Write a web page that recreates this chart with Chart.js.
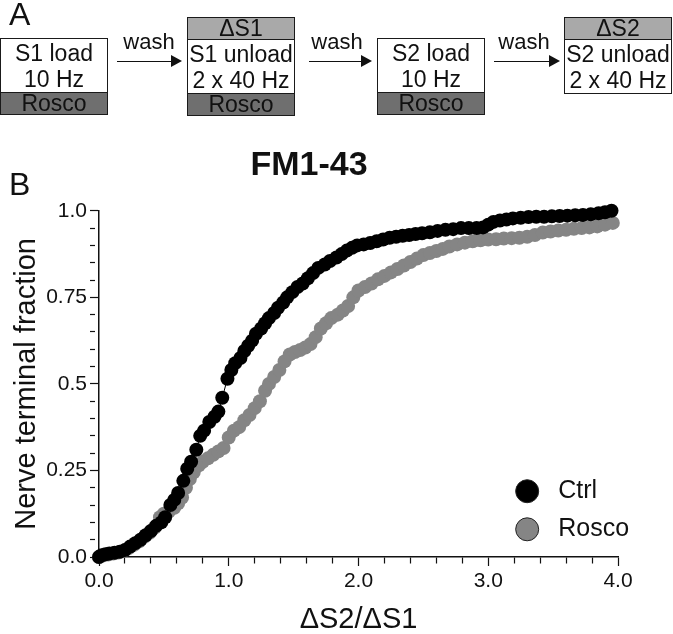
<!DOCTYPE html>
<html>
<head>
<meta charset="utf-8">
<script src="https://cdn.jsdelivr.net/npm/chart.js@4"></script>
<style>
  html, body { margin:0; padding:0; background:#fff; }
  body { width:673px; height:634px; position:relative; overflow:hidden; font-family:"Liberation Sans", Arial, sans-serif; color:#111; }
  #chart { position:absolute; left:0; top:0; }
  .lbl { position:absolute; font-size:32px; line-height:32px; }
  .box { position:absolute; width:108px; border:1.5px solid #1a1a1a; box-sizing:border-box; background:#fff; font-size:23px; text-align:center; }
  .wht { height:53px; display:flex; flex-direction:column; justify-content:center; line-height:26px; }
  .drk { height:21px; line-height:21px; background:#6f6f6f; border-top:1.5px solid #1a1a1a; }
  .lgt { height:21px; line-height:21px; background:#a9a9a9; border-bottom:1.5px solid #1a1a1a; }
  .wash { position:absolute; top:31px; font-size:22px; line-height:22px; width:70px; text-align:center; }
  .arrow { position:absolute; top:61px; height:0; border-top:1.5px solid #111; }
  .arrow::after { content:""; position:absolute; right:-2px; top:-7px; border-left:11px solid #111; border-top:6px solid transparent; border-bottom:6px solid transparent; }
</style>
</head>
<body>
<canvas id="chart" width="673" height="634"></canvas>

<!-- Panel A: protocol diagram -->
<div class="lbl" style="left:9px;top:-2px">A</div>
<div class="lbl" style="left:9px;top:168px">B</div>

<div class="box" style="left:0;top:38px">
  <div class="wht"><span>S1 load</span><span>10 Hz</span></div>
  <div class="drk">Rosco</div>
</div>
<div class="wash" style="left:114px">wash</div>
<div class="arrow" style="left:117px;width:63px"></div>

<div class="box" style="left:187px;top:17px">
  <div class="lgt">ΔS1</div>
  <div class="wht"><span>S1 unload</span><span>2 x 40 Hz</span></div>
  <div class="drk">Rosco</div>
</div>
<div class="wash" style="left:302px">wash</div>
<div class="arrow" style="left:309px;width:61px"></div>

<div class="box" style="left:377px;top:38px">
  <div class="wht"><span>S2 load</span><span>10 Hz</span></div>
  <div class="drk">Rosco</div>
</div>
<div class="wash" style="left:489px">wash</div>
<div class="arrow" style="left:494px;width:64px"></div>

<div class="box" style="left:564px;top:17px">
  <div class="lgt">ΔS2</div>
  <div class="wht"><span>S2 unload</span><span>2 x 40 Hz</span></div>
</div>

<script>
// ---- data ----
const ctrlX = [0.00,0.02,0.05,0.08,0.12,0.16,0.20,0.24,0.28,0.32,0.36,0.40,0.44,0.48,0.51,0.55,0.58,0.61,0.65,0.68,
  0.71,0.75,0.78,0.81,0.85,0.89,0.92,0.95,0.99,1.02,1.05,1.09,1.12,1.15,1.18,1.21,1.25,1.28,1.31,1.35,
  1.38,1.42,1.45,1.49,1.53,1.57,1.61,1.65,1.69,1.74,1.78,1.83,1.87,1.91,1.95,1.99,2.04,2.09,2.14,2.19,
  2.24,2.29,2.34,2.39,2.44,2.49,2.55,2.61,2.67,2.73,2.79,2.85,2.91,2.96,3.00,3.04,3.09,3.14,3.19,3.25,
  3.31,3.37,3.43,3.49,3.55,3.61,3.67,3.73,3.79,3.85,3.90,3.95];
const ctrlY = [0.000,0.005,0.008,0.010,0.012,0.015,0.020,0.030,0.040,0.050,0.063,0.075,0.090,0.100,0.115,0.150,0.165,0.185,0.220,0.255,
  0.275,0.310,0.350,0.365,0.390,0.405,0.420,0.460,0.515,0.540,0.560,0.575,0.595,0.610,0.625,0.645,0.660,0.675,0.690,0.705,
  0.720,0.735,0.750,0.765,0.780,0.790,0.805,0.820,0.835,0.845,0.855,0.865,0.875,0.885,0.893,0.900,0.903,0.907,0.912,0.917,
  0.922,0.925,0.928,0.930,0.933,0.935,0.938,0.942,0.945,0.947,0.950,0.950,0.950,0.952,0.960,0.968,0.972,0.975,0.978,0.980,
  0.982,0.983,0.983,0.984,0.985,0.986,0.987,0.988,0.990,0.993,0.996,1.000];

const roscoX = [0.00,0.03,0.07,0.11,0.15,0.19,0.23,0.27,0.31,0.35,0.39,0.43,0.47,0.50,0.54,0.58,0.61,0.64,0.67,0.70,
  0.73,0.77,0.80,0.84,0.88,0.92,0.96,1.00,1.04,1.08,1.12,1.16,1.20,1.24,1.28,1.31,1.35,1.39,1.43,1.47,
  1.51,1.55,1.59,1.63,1.67,1.71,1.75,1.79,1.84,1.88,1.92,1.96,2.00,2.05,2.10,2.15,2.20,2.25,2.30,2.35,
  2.40,2.45,2.50,2.55,2.60,2.65,2.70,2.76,2.82,2.88,2.94,3.00,3.06,3.12,3.18,3.24,3.30,3.36,3.42,3.48,
  3.54,3.60,3.66,3.72,3.78,3.84,3.90,3.96];
const roscoY = [0.000,0.004,0.007,0.010,0.013,0.018,0.026,0.035,0.045,0.058,0.070,0.085,0.115,0.125,0.132,0.142,0.155,0.172,0.200,0.225,
  0.245,0.265,0.275,0.285,0.295,0.305,0.315,0.345,0.365,0.375,0.395,0.410,0.430,0.450,0.480,0.500,0.520,0.540,0.565,0.585,
  0.592,0.598,0.605,0.615,0.635,0.660,0.675,0.690,0.700,0.712,0.725,0.750,0.770,0.780,0.790,0.802,0.812,0.822,0.832,0.842,
  0.852,0.862,0.872,0.878,0.884,0.890,0.897,0.903,0.908,0.912,0.915,0.917,0.918,0.920,0.921,0.922,0.925,0.930,0.937,0.940,
  0.943,0.945,0.948,0.950,0.952,0.955,0.960,0.965];

const xTickVals = [0, 1, 2, 3, 4];
const xTickText = ['0.0', '1.0', '2.0', '3.0', '4.0'];
const yTickVals = [0, 0.25, 0.5, 0.75, 1];
const yTickText = ['0.0', '0.25', '0.5', '0.75', '1.0'];

const seriesNames  = ['Ctrl', 'Rosco'];
const seriesColors = ['#000000', '#858585'];

const toPts = (xs, ys) => xs.map((x, i) => ({ x, y: ys[i] }));
const findLabel = (vals, text, v) => {
  const i = vals.findIndex(t => Math.abs(t - v) < 1e-6);
  return i < 0 ? '' : text[i];
};
const isMajor = (vals, v) => vals.some(t => Math.abs(t - v) < 1e-6);

const FONT = '"Liberation Sans", Arial, sans-serif';
const INK = '#111';

// legend drawn inside the plot, anchored in data coordinates
const legendPlugin = {
  id: 'insideLegend',
  afterDatasetsDraw(chart) {
    const { ctx, scales: { x, y } } = chart;
    const rows = [0.19, 0.08];
    ctx.save();
    seriesNames.forEach((name, i) => {
      const cx = x.getPixelForValue(3.3), cy = y.getPixelForValue(rows[i]);
      ctx.beginPath();
      ctx.arc(cx, cy, 11.5, 0, Math.PI * 2);
      ctx.fillStyle = seriesColors[i];
      ctx.fill();
      ctx.lineWidth = 1;
      ctx.strokeStyle = '#222';
      ctx.stroke();
      ctx.fillStyle = INK;
      ctx.font = '25px ' + FONT;
      ctx.textBaseline = 'middle';
      ctx.fillText(name, cx + 31, cy);
    });
    ctx.restore();
  }
};

new Chart(document.getElementById('chart'), {
  type: 'scatter',
  data: {
    datasets: [
      { label: seriesNames[0], data: toPts(ctrlX, ctrlY), showLine: true, borderColor: seriesColors[0], borderWidth: 1,
        pointRadius: 7, pointBorderWidth: 0, pointBackgroundColor: seriesColors[0], clip: false },
      { label: seriesNames[1], data: toPts(roscoX, roscoY), showLine: false,
        pointRadius: 7, pointBorderWidth: 0, pointBackgroundColor: seriesColors[1], clip: false }
    ]
  },
  options: {
    responsive: false,
    animation: false,
    layout: { padding: { top: 140, right: 55, left: 0, bottom: 0 } },
    plugins: {
      legend: { display: false },
      tooltip: { enabled: false },
      title: { display: true, text: 'FM1-43', color: INK, font: { family: FONT, size: 34, weight: 'bold', lineHeight: 1.2 },
        padding: { top: 5, bottom: 25 } }
    },
    scales: {
      x: {
        type: 'linear', min: 0, max: 4,
        afterFit: s => { s.height = 77; },
        border: { display: true, color: INK, width: 1.5 },
        grid: { drawOnChartArea: false, tickLength: 9, tickColor: INK, tickWidth: 1.2,
          tickBorderDash: c => isMajor(xTickVals, c.tick.value) ? [] : [6, 20] },
        ticks: { stepSize: 0.2, autoSkip: false, maxRotation: 0, padding: 3, color: INK, font: { family: FONT, size: 21 },
          callback: v => findLabel(xTickVals, xTickText, v) },
        title: { display: true, text: 'ΔS2/ΔS1', color: INK, font: { family: FONT, size: 29, lineHeight: 1 }, padding: { top: 0, bottom: 0 } }
      },
      y: {
        type: 'linear', min: 0, max: 1,
        afterFit: s => { s.width = 99; },
        border: { display: true, color: INK, width: 1.5 },
        grid: { drawOnChartArea: false, tickLength: 9, tickColor: INK, tickWidth: 1.2,
          tickBorderDash: c => isMajor(yTickVals, c.tick.value) ? [] : [5, 20] },
        ticks: { stepSize: 0.05, autoSkip: false, padding: 3, color: INK, font: { family: FONT, size: 21 },
          callback: v => findLabel(yTickVals, yTickText, v) },
        title: { display: true, text: 'Nerve terminal fraction', color: INK, font: { family: FONT, size: 29, lineHeight: 1.2 },
          padding: { top: 10, bottom: 0 } }
      }
    }
  },
  plugins: [legendPlugin]
});
</script>
</body>
</html>
